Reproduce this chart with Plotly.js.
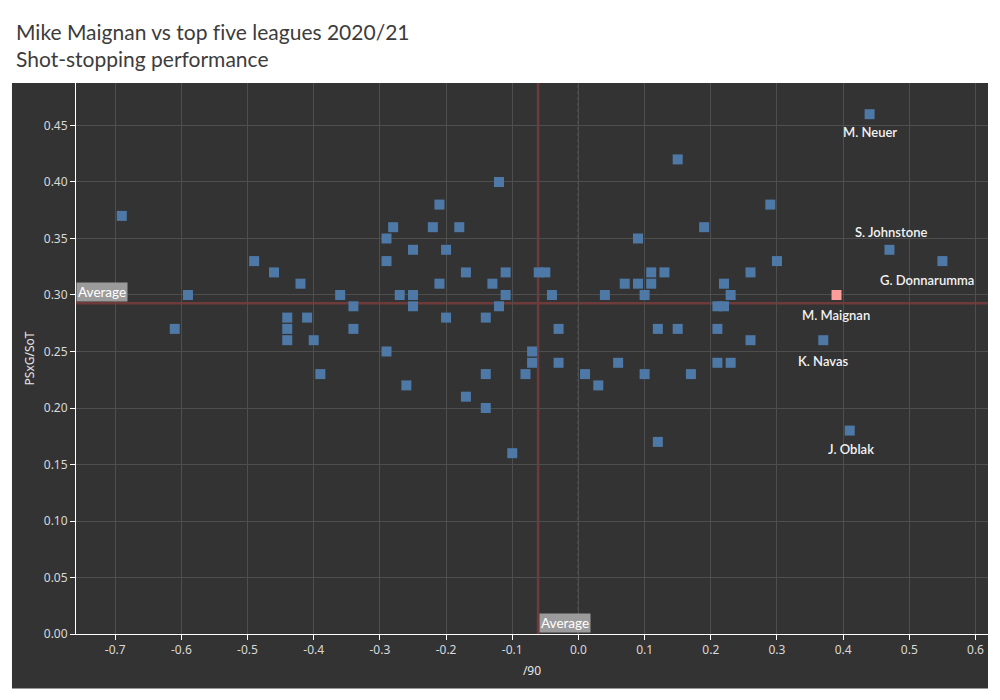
<!DOCTYPE html>
<html><head><meta charset="utf-8">
<script src="https://cdn.plot.ly/plotly-3.0.1.min.js"></script>
<style>html,body{margin:0;padding:0;background:#fff}#chart{width:1000px;height:700px}
#chart text{font-variant-ligatures:none;font-feature-settings:"liga" 0}</style>
</head><body><div id="chart"></div>
<script>
// Goals prevented per 90 (x) and PSxG per shot on target (y)
const goalsPrevented90 = [
  -0.69,-0.61,-0.59,-0.49,-0.46,-0.42,-0.44,-0.44,-0.44,-0.41,
  -0.40,-0.39,-0.36,-0.34,-0.34,-0.29,-0.28,-0.29,-0.29,-0.27,
  -0.25,-0.25,-0.25,-0.26,-0.22,-0.21,-0.20,-0.21,-0.20,-0.18,
  -0.17,-0.17,-0.12,-0.13,-0.11,-0.11,-0.12,-0.14,-0.14,-0.14,
  -0.10,-0.08,-0.07,-0.07,-0.06,-0.05,-0.04,-0.03,-0.03,0.01,
  0.03,0.04,0.06,0.07,0.09,0.09,0.10,0.10,0.11,0.11,
  0.12,0.12,0.13,0.15,0.15,0.17,0.19,0.21,0.21,0.21,
  0.22,0.22,0.23,0.23,0.26,0.26,0.29,0.30,0.37,0.39,
  0.41,0.44,0.47,0.55
];
const psxgPerSot = [
  0.37,0.27,0.30,0.33,0.32,0.31,0.28,0.27,0.26,0.28,
  0.26,0.23,0.30,0.29,0.27,0.35,0.36,0.33,0.25,0.30,
  0.34,0.30,0.29,0.22,0.36,0.38,0.34,0.31,0.28,0.36,
  0.32,0.21,0.40,0.31,0.32,0.30,0.29,0.28,0.23,0.20,
  0.16,0.23,0.25,0.24,0.32,0.32,0.30,0.27,0.24,0.23,
  0.22,0.30,0.24,0.31,0.35,0.31,0.30,0.23,0.32,0.31,
  0.27,0.17,0.32,0.42,0.27,0.23,0.36,0.29,0.27,0.24,
  0.29,0.31,0.30,0.24,0.32,0.26,0.38,0.33,0.26,0.30,
  0.18,0.46,0.34,0.33
];
const keeperNames = [
  "","","","","","","","","","",
  "","","","","","","","","","",
  "","","","","","","","","","",
  "","","","","","","","","","",
  "","","","","","","","","","",
  "","","","","","","","","","",
  "","","","","","","","","","",
  "","","","","","","","","K. Navas","M. Maignan",
  "J. Oblak","M. Neuer","S. Johnstone","G. Donnarumma"
];
const highlightName = "M. Maignan";
const avgGoalsPrevented90 = -0.061;
const avgPsxgPerSot = 0.2927;
const xTickVals = [-0.7,-0.6,-0.5,-0.4,-0.3,-0.2,-0.1,0.0,0.1,0.2,0.3,0.4,0.5,0.6];
const yTickVals = [0.00,0.05,0.10,0.15,0.20,0.25,0.30,0.35,0.40,0.45];

const xRange = [-0.7592, 0.6189];
const yRange = [0, 0.4876];
const FONT = "Lato, 'Noto Sans', sans-serif";
const TICKFONT = "'Noto Sans', Lato, sans-serif";

// label placement (style only)
const labelStyle = {
  "M. Neuer": {xs: 0, ys: -18},
  "S. Johnstone": {xs: 2, ys: 18},
  "G. Donnarumma": {xs: -15, ys: -19},
  "M. Maignan": {xs: -1, ys: -20},
  "K. Navas": {xs: 0, ys: -21},
  "J. Oblak": {xs: 1, ys: -18}
};

const base = {x: [], y: []}, hi = {x: [], y: []};
goalsPrevented90.forEach((v, i) => {
  const t = keeperNames[i] === highlightName ? hi : base;
  t.x.push(v); t.y.push(psxgPerSot[i]);
});

const traces = [
  {type: 'scatter', mode: 'markers', x: base.x, y: base.y,
   marker: {symbol: 'square', size: 10, color: '#4e79a7', line: {width: 0}}, hoverinfo: 'x+y'},
  {type: 'scatter', mode: 'markers', x: hi.x, y: hi.y,
   marker: {symbol: 'square', size: 10, color: '#ff9d9a', line: {width: 0}}, hoverinfo: 'x+y'}
];

const annotations = [];
keeperNames.forEach((n, i) => {
  if (!n) return;
  const s = labelStyle[n] || {xs: 0, ys: -18};
  annotations.push({x: goalsPrevented90[i], y: psxgPerSot[i], xref: 'x', yref: 'y',
    text: n, showarrow: false, xanchor: 'center', yanchor: 'middle',
    xshift: s.xs, yshift: s.ys, font: {family: FONT, size: 13, color: '#f2f2f2', weight: 600}});
});
annotations.push({x: 0, xref: 'paper', y: avgPsxgPerSot, yref: 'y', text: 'Average',
  showarrow: false, xanchor: 'left', yanchor: 'bottom', yshift: 1,
  bgcolor: '#9b9b9b', borderpad: 1, font: {family: FONT, size: 13.5, color: '#ffffff'}});
annotations.push({x: avgGoalsPrevented90, xref: 'x', y: 0, yref: 'y', text: 'Average',
  showarrow: false, xanchor: 'left', yanchor: 'bottom', xshift: 1, yshift: 1,
  bgcolor: '#9b9b9b', borderpad: 1, font: {family: FONT, size: 13.5, color: '#ffffff'}});

const shapes = [
  {type: 'rect', xref: 'paper', yref: 'paper', x0: -0.0702, x1: 1, y0: -0.099, y1: 1,
   fillcolor: '#333333', line: {width: 0}, layer: 'below'},
  {type: 'line', xref: 'x', yref: 'y', x0: 0, x1: 0, y0: yRange[0], y1: yRange[1],
   line: {color: '#ffffff', width: 1, dash: 'dot'}, layer: 'below'},
  {type: 'line', xref: 'x', yref: 'y', x0: xRange[0], x1: xRange[1], y0: avgPsxgPerSot, y1: avgPsxgPerSot,
   line: {color: '#6e3a3a', width: 2.5}, layer: 'below'},
  {type: 'line', xref: 'x', yref: 'y', x0: avgGoalsPrevented90, x1: avgGoalsPrevented90, y0: yRange[0], y1: yRange[1],
   line: {color: '#6e3a3a', width: 2.5}, layer: 'below'}
];

const axisCommon = {
  showline: true, linecolor: '#ffffff', linewidth: 1,
  ticks: 'outside', ticklen: 5, tickcolor: '#ffffff', tickwidth: 1,
  showgrid: true, gridcolor: '#4e4e4e', gridwidth: 1, zeroline: false,
  tickfont: {family: TICKFONT, size: 12, color: '#d9d9d9'}, automargin: false, fixedrange: true
};

const layout = {
  width: 1000, height: 700,
  margin: {l: 76, r: 12, t: 83, b: 66, pad: 0},
  paper_bgcolor: '#ffffff', plot_bgcolor: 'rgba(0,0,0,0)',
  showlegend: false,
  title: {text: 'Mike Maignan vs top five leagues 2020/21<br>Shot-stopping performance',
    x: 0.016, xref: 'container', xanchor: 'left', y: 1 - 40/700, yref: 'container', yanchor: 'top',
    font: {family: FONT, size: 21, color: '#3c3c3c'}},
  xaxis: Object.assign({}, axisCommon, {range: xRange, tickmode: 'array', tickvals: xTickVals,
    ticktext: xTickVals.map(v => v.toFixed(1)),
    title: {text: '/90', standoff: 9, font: {family: TICKFONT, size: 12, color: '#e6e6e6'}}}),
  yaxis: Object.assign({}, axisCommon, {range: yRange, tickmode: 'array', tickvals: yTickVals,
    ticktext: yTickVals.map(v => v.toFixed(2)),
    title: {text: 'PSxG/SoT', standoff: 6, font: {family: TICKFONT, size: 12, color: '#e6e6e6'}}}),
  shapes: shapes,
  annotations: annotations
};

Plotly.newPlot('chart', traces, layout, {displayModeBar: false, staticPlot: true});
</script></body></html>
